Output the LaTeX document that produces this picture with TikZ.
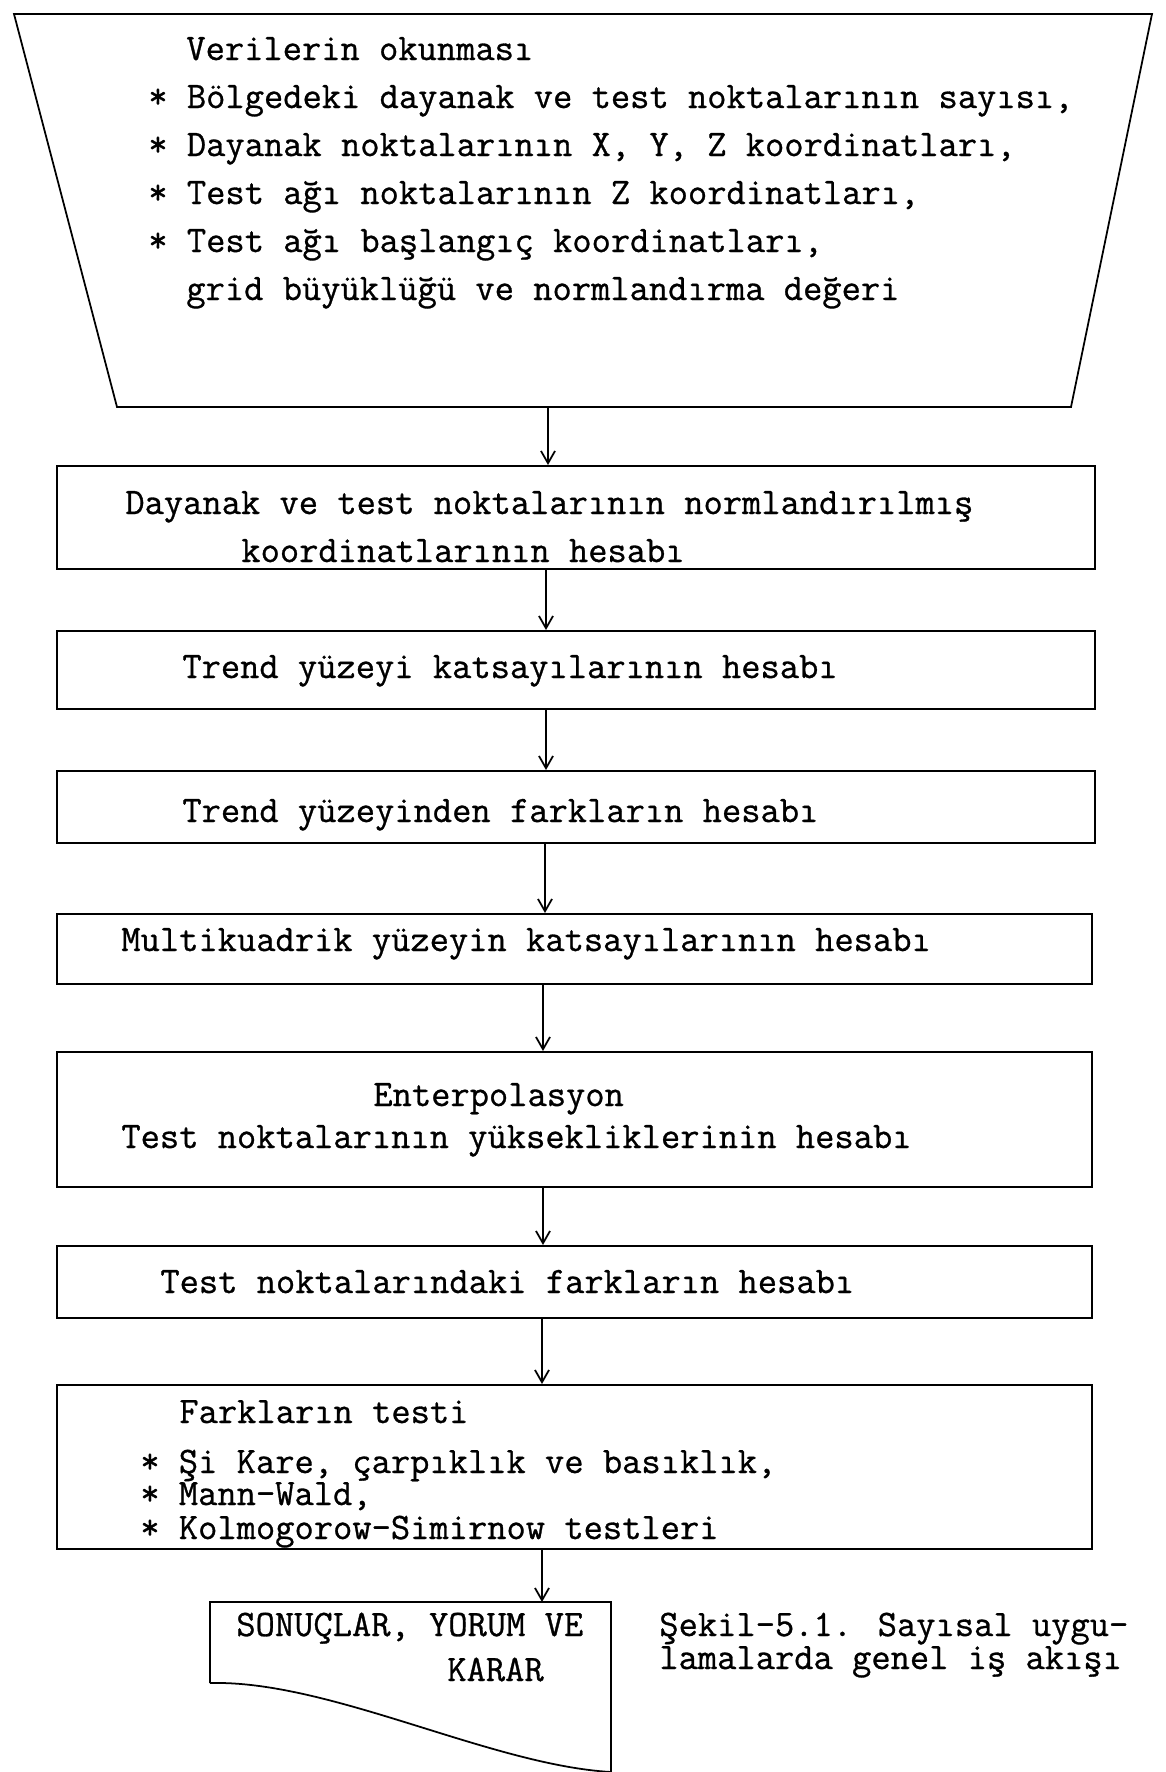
\documentclass[tikz,border=0pt]{standalone}
\usepackage{fontspec}
\newfontfamily\twfont{Latin Modern Mono}[FakeBold=0.8]
\usetikzlibrary{arrows.meta}
\tikzset{
  stepbox/.style={draw, line width=1pt, anchor=north west, inner sep=0pt},
  txt/.style={anchor=base west, inner sep=0pt, font=\twfont\fontsize{21.3}{22}\selectfont},
  arr/.style={-{Straight Barb[length=7pt,width=8pt]}, line width=1pt}
}
\begin{document}
\begin{tikzpicture}[x=.02cm,y=-.02cm]
\useasboundingbox (0,0) rectangle (1166,1772);
% veriler
\coordinate (tl) at (14,14);
\coordinate (tr) at (1152,14);
\coordinate (br) at (1071,407);
\coordinate (bl) at (117,407);
\draw[line width=1pt] (tl) -- (tr) -- (br) -- (bl) -- cycle;
\coordinate (in) at (548,407);
\node[txt] (v0) at (186,60) {Verilerin okunması};
\node[txt] (v1) at (148,108) {* Bölgedeki dayanak ve test noktalarının sayısı,};
\node[txt] (v2) at (148,156) {* Dayanak noktalarının X, Y, Z koordinatları,};
\node[txt] (v3) at (148,204) {* Test ağı noktalarının Z koordinatları,};
\node[txt] (v4) at (148,252) {* Test ağı başlangıç koordinatları,};
\node[txt] (v5) at (186,300) {grid büyüklüğü ve normlandırma değeri};
%
\node[stepbox, minimum width=20.76cm, minimum height=2.06cm] (b1) at (56,465) {};
\node[txt] at (125,514) {Dayanak ve test noktalarının normlandırılmış};
\node[txt] at (241,562) {koordinatlarının hesabı};
\node[stepbox, minimum width=20.76cm, minimum height=1.56cm] (b2) at (56,630) {};
\node[txt] at (182,678) {Trend yüzeyi katsayılarının hesabı};
\node[stepbox, minimum width=20.76cm, minimum height=1.44cm] (b3) at (56,770) {};
\node[txt] at (182,822) {Trend yüzeyinden farkların hesabı};
\node[stepbox, minimum width=20.70cm, minimum height=1.40cm] (b4) at (56,913) {};
\node[txt] at (121,951) {Multikuadrik yüzeyin katsayılarının hesabı};
\node[stepbox, minimum width=20.70cm, minimum height=2.70cm] (b5) at (56,1051) {};
\node[txt] at (373,1106) {Enterpolasyon};
\node[txt] at (121,1148) {Test noktalarının yüksekliklerinin hesabı};
\node[stepbox, minimum width=20.70cm, minimum height=1.44cm] (b6) at (56,1245) {};
\node[txt] at (160,1293) {Test noktalarındaki farkların hesabı};
\node[stepbox, minimum width=20.70cm, minimum height=3.28cm] (b7) at (56,1384) {};
\node[txt] at (179,1423) {Farkların testi};
\node[txt] at (140,1473) {* Şi Kare, çarpıklık ve basıklık,};
\node[txt] at (140,1505) {* Mann-Wald,};
\node[txt] at (140,1539) {* Kolmogorow-Simirnow testleri};
%
% sonuclar (belge)
\coordinate (dtl) at (210,1602);
\coordinate (dtr) at (611,1602);
\coordinate (dbr) at (611,1772);
\coordinate (dbl) at (210,1683);
\draw[line width=1pt] (dbl) -- (dtl) -- (dtr) -- (dbr)
  .. controls (490,1765) and (330,1680) .. (dbl);
\node[txt] at (236,1636) {SONUÇLAR, YORUM VE};
\node[txt] at (447,1681) {KARAR};
\node[txt] (cap1) at (659,1636) {Şekil-5.1. Sayısal uygu-};
\node[txt] (cap2) at (659,1669) {lamalarda genel iş akışı};
%
\coordinate (a1) at (546,0);
\coordinate (a2) at (545,0);
\coordinate (a3) at (543,0);
\coordinate (a4) at (542,0);
\draw[arr] (in) -- (in |- b1.north);
\draw[arr] (b1.south -| a1) -- (b2.north -| a1);
\draw[arr] (b2.south -| a1) -- (b3.north -| a1);
\draw[arr] (b3.south -| a2) -- (b4.north -| a2);
\draw[arr] (b4.south -| a3) -- (b5.north -| a3);
\draw[arr] (b5.south -| a3) -- (b6.north -| a3);
\draw[arr] (b6.south -| a4) -- (b7.north -| a4);
\draw[arr] (b7.south -| a4) -- (a4 |- dtl);
\end{tikzpicture}
\end{document}
